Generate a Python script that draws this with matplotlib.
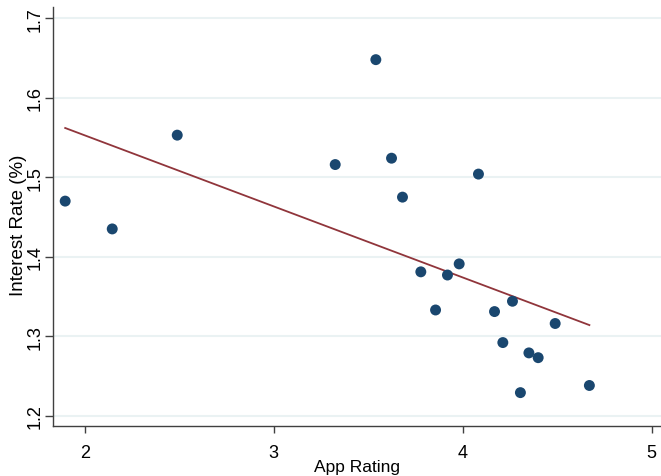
import matplotlib.pyplot as plt

plt.rcParams['font.family'] = ['Liberation Sans', 'DejaVu Sans']

# app rating vs interest rate, one point per bank
app_rating = [1.897, 2.146, 2.490, 3.326, 3.541, 3.624, 3.682, 3.779, 3.857, 3.920,
              3.982, 4.084, 4.169, 4.213, 4.264, 4.306, 4.351, 4.400, 4.490, 4.671]
interest_rate = [1.470, 1.435, 1.553, 1.516, 1.648, 1.524, 1.475, 1.381, 1.333, 1.377,
                 1.391, 1.504, 1.331, 1.292, 1.344, 1.229, 1.279, 1.273, 1.316, 1.238]

# fitted line
fit_intercept = 1.7316
fit_slope = -0.0894

x_ticks = [2, 3, 4, 5]
y_ticks = [1.2, 1.3, 1.4, 1.5, 1.6, 1.7]

xs = [min(app_rating), max(app_rating)]
ys = [fit_intercept + fit_slope * v for v in xs]

fig = plt.figure(figsize=(6.61, 4.77), dpi=100)
ax = fig.add_axes([0.0806, 0.1048, 0.9194, 0.878])

for yt in y_ticks:
    ax.axhline(yt, color='#eaf2f3', lw=1.5, zorder=0)

ax.scatter(app_rating, interest_rate, s=62, color='#1a476f', edgecolors='none', zorder=3)
ax.plot(xs, ys, color='#90353b', lw=1.3, zorder=2)

ax.set_xlim(1.834, 5.05)
ax.set_ylim(1.187, 1.714)
ax.set_xticks(x_ticks)
ax.set_yticks(y_ticks)
ax.set_xticklabels([str(t) for t in x_ticks], fontsize=13)
ax.set_yticklabels([f'{t:.1f}' for t in y_ticks], fontsize=13, rotation=90, va='center')
ax.tick_params(axis='x', length=5, width=1, color='#404040', pad=8)
ax.tick_params(axis='y', length=6, width=1, color='#404040', pad=1)
ax.set_xlabel('App Rating', fontsize=12.5, labelpad=-1.5)
ax.set_ylabel('Interest Rate (%)', fontsize=13.5)
ax.yaxis.set_label_coords(-0.043, 0.482)

for s in ['top', 'right']:
    ax.spines[s].set_visible(False)
for s in ['left', 'bottom']:
    ax.spines[s].set_linewidth(1)
    ax.spines[s].set_color('#404040')

fig.savefig('out.png', dpi=100)
